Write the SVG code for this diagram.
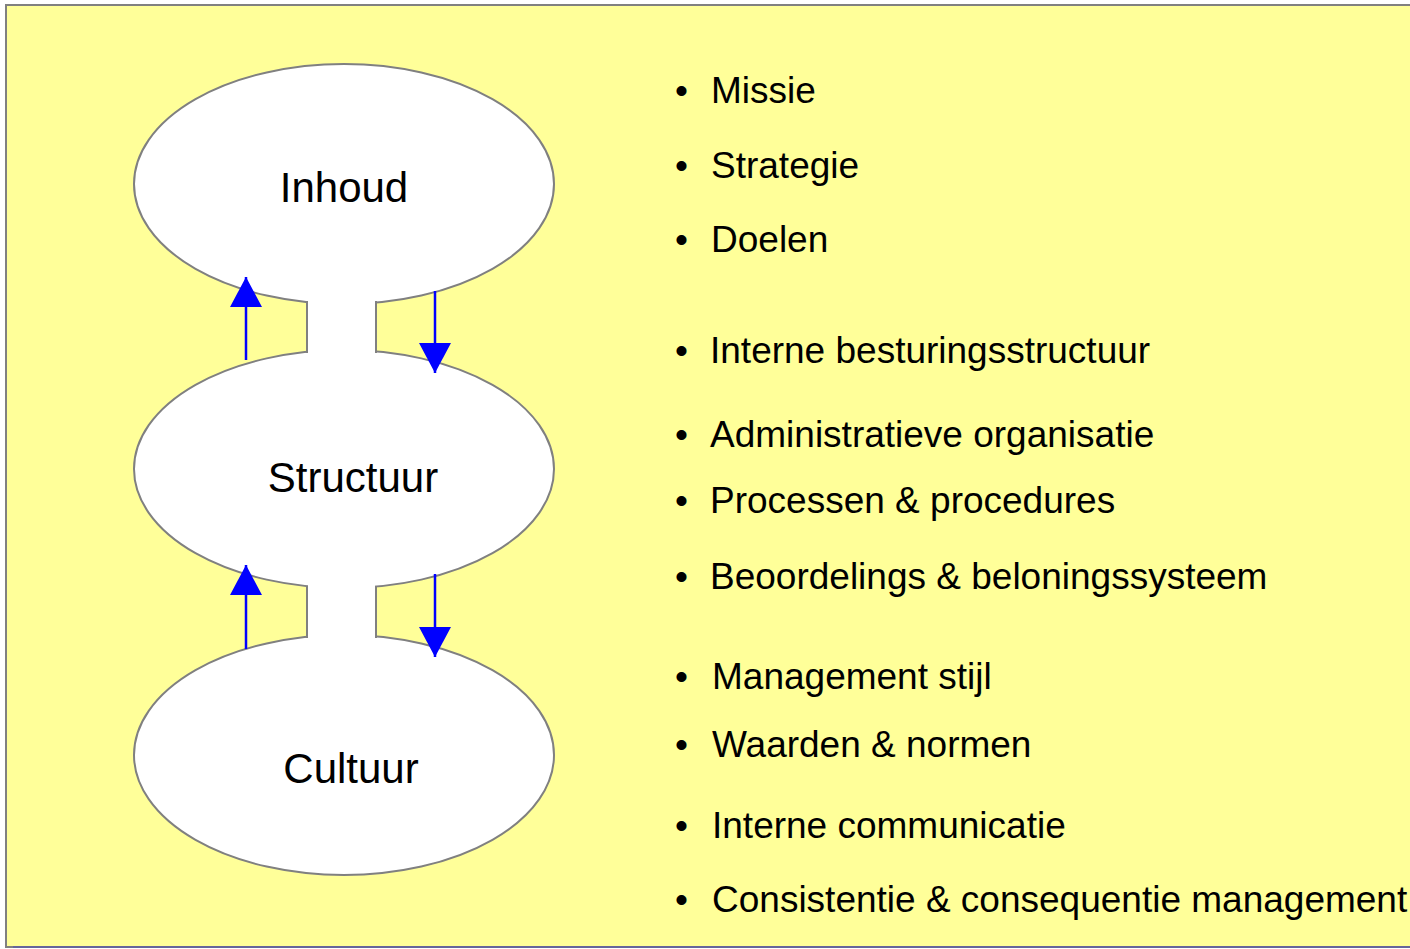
<svg xmlns="http://www.w3.org/2000/svg" width="1410" height="949" viewBox="0 0 1410 949">
<defs>
<style>
.bg{fill:#ffff99;stroke:#808080;stroke-width:2}
.ell{fill:#ffffff;stroke:#808080;stroke-width:2}
.neck{fill:#ffffff;stroke:none}
.nline{stroke:#808080;stroke-width:2;fill:none}
.lbl{font-family:"Liberation Sans",Arial,sans-serif;font-size:42px;fill:#000;text-anchor:middle}
.item{font-family:"Liberation Sans",Arial,sans-serif;font-size:37px;fill:#000}
.bul{font-family:"Liberation Sans",Arial,sans-serif;font-size:37px;fill:#000;text-anchor:middle}
.arr{stroke:#0000ff;stroke-width:2.5;fill:none;marker-end:url(#ah)}
</style>
<marker id="ah" markerUnits="userSpaceOnUse" viewBox="0 0 30 32" markerWidth="30" markerHeight="32" refX="30" refY="16" orient="auto">
<path d="M0,0 L30,16 L0,32 Z" fill="#0000ff"/>
</marker>
</defs>
<rect class="bg" x="6" y="5" width="1420" height="942"/>
<line x1="13" y1="947" x2="1410" y2="947" stroke="#66669a" stroke-width="2"/>

<g id="node-inhoud">
<ellipse class="ell" cx="344" cy="184" rx="210" ry="120"/>
<text class="lbl" x="344" y="202">Inhoud</text>
</g>
<g id="node-structuur">
<ellipse class="ell" cx="344" cy="469" rx="210" ry="119"/>
<text class="lbl" x="353" y="492">Structuur</text>
</g>
<g id="node-cultuur">
<ellipse class="ell" cx="344" cy="755" rx="210" ry="120"/>
<text class="lbl" x="351" y="783">Cultuur</text>
</g>
<g id="necks">
<rect class="neck" x="308" y="297" width="67" height="60"/>
<line class="nline" x1="307" y1="301" x2="307" y2="353"/>
<line class="nline" x1="376" y1="301" x2="376" y2="353"/>
<rect class="neck" x="308" y="582" width="67" height="60"/>
<line class="nline" x1="307" y1="586" x2="307" y2="638"/>
<line class="nline" x1="376" y1="586" x2="376" y2="638"/>
</g>

<g id="connectors">
<line class="arr" x1="246" y1="360" x2="246" y2="277"/>
<line class="arr" x1="435" y1="291" x2="435" y2="373"/>
<line class="arr" x1="246" y1="649" x2="246" y2="565"/>
<line class="arr" x1="435" y1="574" x2="435" y2="657"/>
</g>

<g id="list">
<text class="bul" x="681.5" y="103">•</text><text class="item" x="711" y="103">Missie</text>
<text class="bul" x="681.5" y="178">•</text><text class="item" x="711" y="178">Strategie</text>
<text class="bul" x="681.5" y="252">•</text><text class="item" x="711" y="252">Doelen</text>
<text class="bul" x="681.5" y="363">•</text><text class="item" x="710" y="363">Interne besturingsstructuur</text>
<text class="bul" x="681.5" y="447">•</text><text class="item" x="710" y="447">Administratieve organisatie</text>
<text class="bul" x="681.5" y="513">•</text><text class="item" x="710" y="513">Processen &amp; procedures</text>
<text class="bul" x="681.5" y="589">•</text><text class="item" x="710" y="589">Beoordelings &amp; beloningssysteem</text>
<text class="bul" x="681.5" y="689">•</text><text class="item" x="712" y="689">Management stijl</text>
<text class="bul" x="681.5" y="757">•</text><text class="item" x="712" y="757">Waarden &amp; normen</text>
<text class="bul" x="681.5" y="838">•</text><text class="item" x="712" y="838">Interne communicatie</text>
<text class="bul" x="681.5" y="912">•</text><text class="item" x="712" y="912">Consistentie &amp; consequentie management</text>
</g>
</svg>
